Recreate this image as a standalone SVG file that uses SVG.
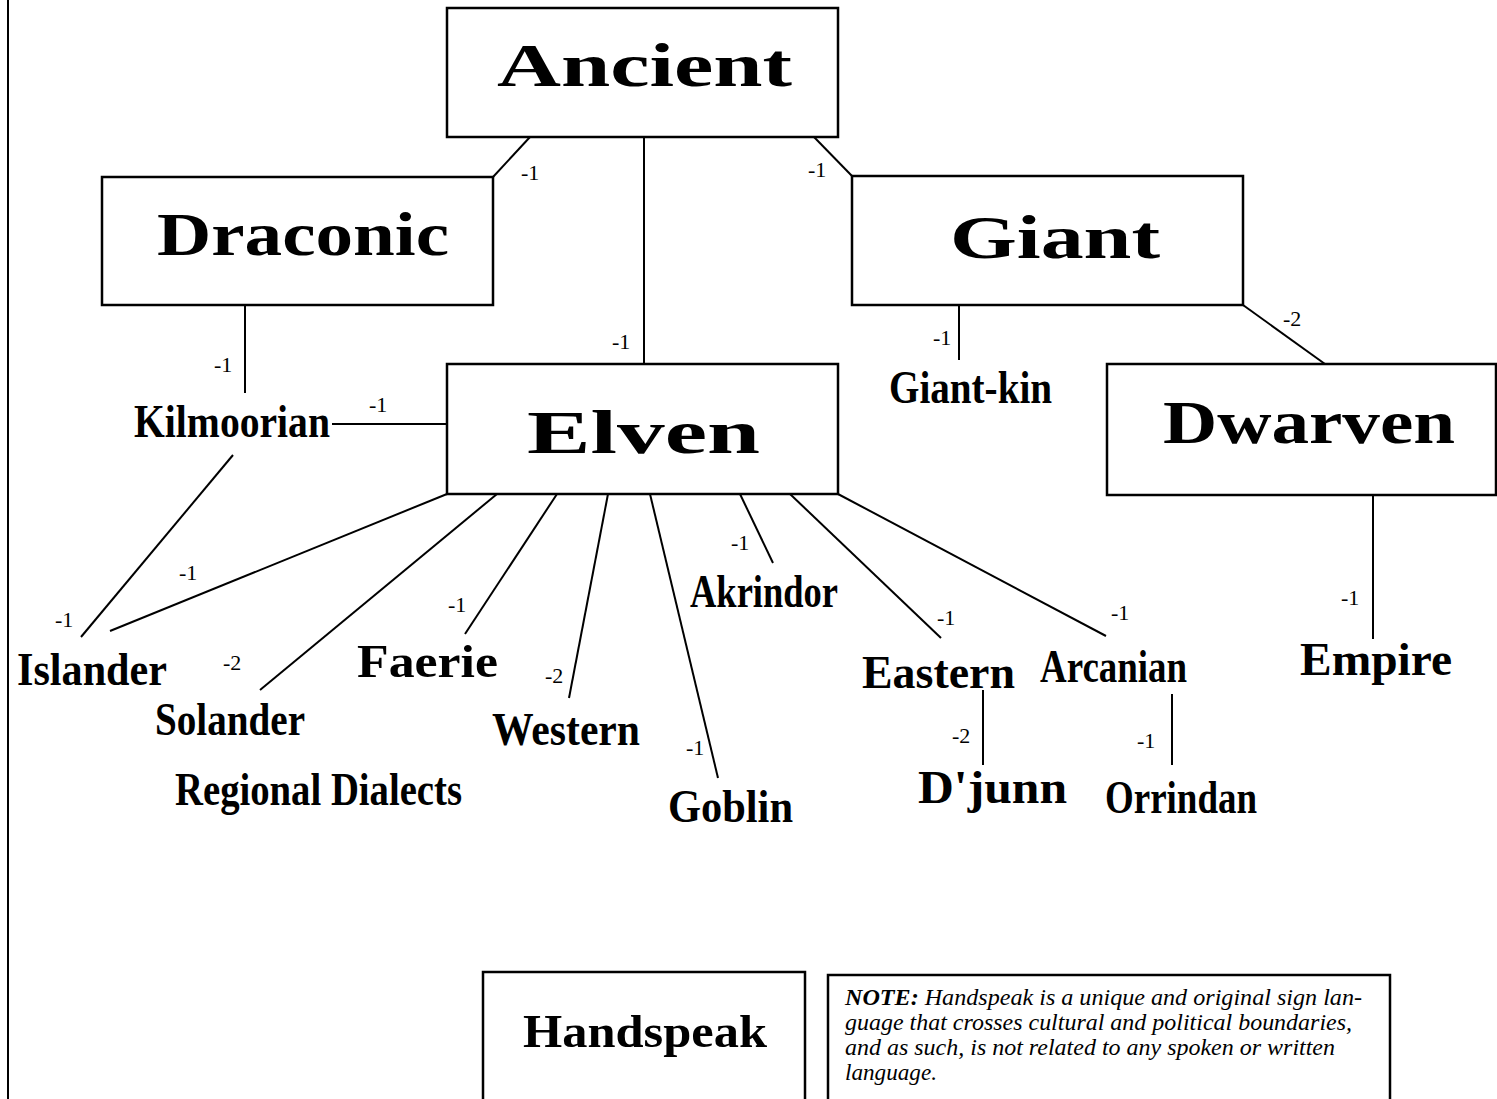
<svg xmlns="http://www.w3.org/2000/svg" width="1497" height="1099" viewBox="0 0 1497 1099">
<style>
.box{fill:#fff;stroke:#000;stroke-width:2.5}
.ln{stroke:#000;stroke-width:2;fill:none}
.big{font-family:"Liberation Serif",serif;font-weight:bold;font-size:62px;fill:#000}
.mid{font-family:"Liberation Serif",serif;font-weight:bold;font-size:46px;fill:#000}
.num{font-family:"Liberation Serif",serif;font-size:22px;fill:#000}
.note{font-family:"Liberation Serif",serif;font-style:italic;font-size:24px;fill:#000}
</style>
<rect width="1497" height="1099" fill="#fff"/>
<line x1="8" y1="0" x2="8" y2="1099" stroke="#000" stroke-width="2"/>
<g id="connectors">
<line class="ln" x1="530" y1="137" x2="493" y2="177"/>
<line class="ln" x1="644" y1="137" x2="644" y2="364"/>
<line class="ln" x1="814" y1="137" x2="852" y2="176"/>
<line class="ln" x1="1243" y1="305" x2="1325" y2="364"/>
<line class="ln" x1="959" y1="305" x2="959" y2="360"/>
<line class="ln" x1="1373" y1="495" x2="1373" y2="639"/>
<line class="ln" x1="245" y1="305" x2="245" y2="393"/>
<line class="ln" x1="332" y1="424" x2="447" y2="424"/>
<line class="ln" x1="233" y1="455" x2="81" y2="637"/>
<line class="ln" x1="447" y1="494" x2="110" y2="631"/>
<line class="ln" x1="497" y1="494" x2="260" y2="690"/>
<line class="ln" x1="557" y1="494" x2="465" y2="634"/>
<line class="ln" x1="608" y1="494" x2="569" y2="698"/>
<line class="ln" x1="650" y1="494" x2="718" y2="778"/>
<line class="ln" x1="740" y1="494" x2="773" y2="563"/>
<line class="ln" x1="790" y1="494" x2="941" y2="638"/>
<line class="ln" x1="838" y1="494" x2="1106" y2="636"/>
<line class="ln" x1="983" y1="690" x2="983" y2="765"/>
<line class="ln" x1="1172" y1="694" x2="1172" y2="765"/>
<text class="num" x="521" y="180">-1</text>
<text class="num" x="612" y="349">-1</text>
<text class="num" x="808" y="177">-1</text>
<text class="num" x="1283" y="326">-2</text>
<text class="num" x="933" y="345">-1</text>
<text class="num" x="1341" y="605">-1</text>
<text class="num" x="214" y="372">-1</text>
<text class="num" x="369" y="412">-1</text>
<text class="num" x="55" y="627">-1</text>
<text class="num" x="179" y="580">-1</text>
<text class="num" x="223" y="670">-2</text>
<text class="num" x="448" y="612">-1</text>
<text class="num" x="545" y="683">-2</text>
<text class="num" x="686" y="755">-1</text>
<text class="num" x="731" y="550">-1</text>
<text class="num" x="937" y="625">-1</text>
<text class="num" x="1111" y="620">-1</text>
<text class="num" x="952" y="743">-2</text>
<text class="num" x="1137" y="748">-1</text>
</g>
<g id="ancient"><rect class="box" x="447" y="8" width="391" height="129"/><text class="big" x="497" y="86" textLength="295" lengthAdjust="spacingAndGlyphs">Ancient</text></g>
<g id="draconic"><rect class="box" x="102" y="177" width="391" height="128"/><text class="big" x="157" y="255" textLength="292" lengthAdjust="spacingAndGlyphs">Draconic</text></g>
<g id="giant"><rect class="box" x="852" y="176" width="391" height="129"/><text class="big" x="950" y="258" textLength="210" lengthAdjust="spacingAndGlyphs">Giant</text></g>
<g id="elven"><rect class="box" x="447" y="364" width="391" height="130"/><text class="big" x="527" y="453" textLength="233" lengthAdjust="spacingAndGlyphs">Elven</text></g>
<g id="dwarven"><rect class="box" x="1107" y="364" width="389" height="131"/><text class="big" x="1163" y="443" textLength="292" lengthAdjust="spacingAndGlyphs">Dwarven</text></g>
<g id="giant-kin"><text class="mid" x="889" y="403" textLength="163" lengthAdjust="spacingAndGlyphs">Giant-kin</text></g>
<g id="kilmoorian"><text class="mid" x="134" y="437" textLength="196" lengthAdjust="spacingAndGlyphs">Kilmoorian</text></g>
<g id="islander"><text class="mid" x="17" y="685" textLength="150" lengthAdjust="spacingAndGlyphs">Islander</text></g>
<g id="solander"><text class="mid" x="155" y="735" textLength="150" lengthAdjust="spacingAndGlyphs">Solander</text></g>
<g id="regional-dialects"><text class="mid" x="175" y="805" textLength="287" lengthAdjust="spacingAndGlyphs">Regional Dialects</text></g>
<g id="faerie"><text class="mid" x="357" y="677" textLength="141" lengthAdjust="spacingAndGlyphs">Faerie</text></g>
<g id="western"><text class="mid" x="492" y="745" textLength="148" lengthAdjust="spacingAndGlyphs">Western</text></g>
<g id="goblin"><text class="mid" x="668" y="822" textLength="125" lengthAdjust="spacingAndGlyphs">Goblin</text></g>
<g id="akrindor"><text class="mid" x="690" y="607" textLength="148" lengthAdjust="spacingAndGlyphs">Akrindor</text></g>
<g id="eastern"><text class="mid" x="862" y="688" textLength="153" lengthAdjust="spacingAndGlyphs">Eastern</text></g>
<g id="arcanian"><text class="mid" x="1040" y="682" textLength="147" lengthAdjust="spacingAndGlyphs">Arcanian</text></g>
<g id="djunn"><text class="mid" x="918" y="803" textLength="149" lengthAdjust="spacingAndGlyphs">D'junn</text></g>
<g id="orrindan"><text class="mid" x="1105" y="813" textLength="152" lengthAdjust="spacingAndGlyphs">Orrindan</text></g>
<g id="empire"><text class="mid" x="1300" y="675" textLength="152" lengthAdjust="spacingAndGlyphs">Empire</text></g>
<g id="handspeak"><rect class="box" x="483" y="972" width="322" height="140"/><text class="mid" x="523" y="1047" font-size="54" textLength="244" lengthAdjust="spacingAndGlyphs">Handspeak</text></g>
<g id="note"><rect class="box" x="828" y="975" width="562" height="140"/>
<text class="note" x="845" y="1005" textLength="517" lengthAdjust="spacingAndGlyphs"><tspan font-weight="bold">NOTE:</tspan> Handspeak is a unique and original sign  lan-</text>
<text class="note" x="845" y="1030" textLength="507" lengthAdjust="spacingAndGlyphs">guage that crosses cultural and political boundaries,</text>
<text class="note" x="845" y="1055" textLength="490" lengthAdjust="spacingAndGlyphs">and as such, is not related to any spoken or written</text>
<text class="note" x="845" y="1080" textLength="92" lengthAdjust="spacingAndGlyphs">language.</text>
</g>
</svg>
